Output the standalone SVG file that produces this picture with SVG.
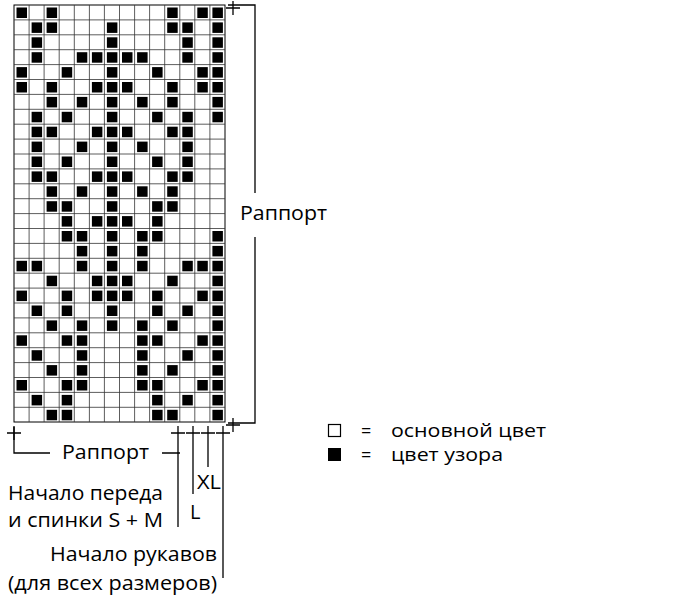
<svg xmlns="http://www.w3.org/2000/svg" width="677" height="600" viewBox="0 0 677 600">
<style>
.t{font-family:"Open Sans","Noto Sans",sans-serif;font-size:20px;fill:#000}
.s{font-size:18px}
.ln{stroke:#000;stroke-width:1.3;fill:none}
.g{stroke:#333;stroke-width:0.8}
.b{fill:#000}
</style>
<rect width="677" height="600" fill="#fff"/>
<g id="chart">
<rect x="14" y="5" width="211" height="417" fill="#fff" stroke="#000" stroke-width="1"/>
</g>
<g id="connectors" class="ln">
<path d="M228 5H255V193M255 237V423H228"/>
<path d="M233 1V15M226 8H240"/>
<path d="M233 418V432M226 425H240"/>
<path d="M14 427V453H50M162 453H180"/>
<path d="M14 426V440M7 433H21"/>
<path d="M178 426V527M193 426V494M208 426V467M223 426V578"/>
<path d="M171 433H185M186 433H200M201 433H215M216 433H230"/>
</g>
<g id="labels">
<text class="t" x="240" y="220" textLength="87" lengthAdjust="spacingAndGlyphs">Раппорт</text>
<text class="t" x="62" y="459" textLength="87" lengthAdjust="spacingAndGlyphs">Раппорт</text>
<text class="t" x="197" y="489" textLength="24" lengthAdjust="spacingAndGlyphs">XL</text>
<text class="t" x="190" y="519">L</text>
<text class="t" x="8" y="500" textLength="155" lengthAdjust="spacingAndGlyphs">Начало переда</text>
<text class="t" x="8" y="527" textLength="155" lengthAdjust="spacingAndGlyphs">и спинки S + M</text>
<text class="t" x="50" y="561" textLength="167" lengthAdjust="spacingAndGlyphs">Начало рукавов</text>
<text class="t" x="8" y="590" textLength="209" lengthAdjust="spacingAndGlyphs">(для всех размеров)</text>
</g>
<g id="legend">
<rect x="328.5" y="424.5" width="12" height="12" fill="#fff" stroke="#000" stroke-width="1.2"/>
<rect x="328" y="448" width="13" height="13" fill="#000"/>
<text class="t s" x="361" y="437">=</text>
<text class="t s" x="361" y="461">=</text>
<text class="t s" x="391" y="437" textLength="155" lengthAdjust="spacingAndGlyphs">основной цвет</text>
<text class="t s" x="391" y="461" textLength="112" lengthAdjust="spacingAndGlyphs">цвет узора</text>
</g>
<g id="grid" class="g">
<path d="M29.1 5V422M44.1 5V422M59.2 5V422M74.3 5V422M89.4 5V422M104.4 5V422M119.5 5V422M134.6 5V422M149.6 5V422M164.7 5V422M179.8 5V422M194.8 5V422M209.9 5V422"/>
<path d="M14 19.9H225M14 34.8H225M14 49.7H225M14 64.6H225M14 79.5H225M14 94.4H225M14 109.3H225M14 124.2H225M14 139.1H225M14 154H225M14 168.9H225M14 183.8H225M14 198.7H225M14 213.6H225M14 228.5H225M14 243.4H225M14 258.3H225M14 273.2H225M14 288.1H225M14 303H225M14 317.9H225M14 332.8H225M14 347.7H225M14 362.6H225M14 377.5H225M14 392.4H225M14 407.3H225"/>
</g>
<g id="stitches" class="b">
<rect x="16.5" y="7.5" width="10.5" height="10.5"/><rect x="46.6" y="7.5" width="10.5" height="10.5"/><rect x="167.2" y="7.5" width="10.5" height="10.5"/><rect x="197.3" y="7.5" width="10.5" height="10.5"/><rect x="212.4" y="7.5" width="10.5" height="10.5"/>
<rect x="31.6" y="22.4" width="10.5" height="10.5"/><rect x="46.6" y="22.4" width="10.5" height="10.5"/><rect x="106.9" y="22.4" width="10.5" height="10.5"/><rect x="167.2" y="22.4" width="10.5" height="10.5"/><rect x="182.3" y="22.4" width="10.5" height="10.5"/><rect x="212.4" y="22.4" width="10.5" height="10.5"/>
<rect x="31.6" y="37.3" width="10.5" height="10.5"/><rect x="106.9" y="37.3" width="10.5" height="10.5"/><rect x="182.3" y="37.3" width="10.5" height="10.5"/><rect x="212.4" y="37.3" width="10.5" height="10.5"/>
<rect x="31.6" y="52.2" width="10.5" height="10.5"/><rect x="76.8" y="52.2" width="10.5" height="10.5"/><rect x="91.9" y="52.2" width="10.5" height="10.5"/><rect x="106.9" y="52.2" width="10.5" height="10.5"/><rect x="122" y="52.2" width="10.5" height="10.5"/><rect x="137.1" y="52.2" width="10.5" height="10.5"/><rect x="182.3" y="52.2" width="10.5" height="10.5"/><rect x="212.4" y="52.2" width="10.5" height="10.5"/>
<rect x="16.5" y="67.1" width="10.5" height="10.5"/><rect x="61.7" y="67.1" width="10.5" height="10.5"/><rect x="106.9" y="67.1" width="10.5" height="10.5"/><rect x="152.1" y="67.1" width="10.5" height="10.5"/><rect x="197.3" y="67.1" width="10.5" height="10.5"/><rect x="212.4" y="67.1" width="10.5" height="10.5"/>
<rect x="16.5" y="82" width="10.5" height="10.5"/><rect x="46.6" y="82" width="10.5" height="10.5"/><rect x="91.9" y="82" width="10.5" height="10.5"/><rect x="106.9" y="82" width="10.5" height="10.5"/><rect x="122" y="82" width="10.5" height="10.5"/><rect x="167.2" y="82" width="10.5" height="10.5"/><rect x="197.3" y="82" width="10.5" height="10.5"/><rect x="212.4" y="82" width="10.5" height="10.5"/>
<rect x="46.6" y="96.9" width="10.5" height="10.5"/><rect x="76.8" y="96.9" width="10.5" height="10.5"/><rect x="106.9" y="96.9" width="10.5" height="10.5"/><rect x="137.1" y="96.9" width="10.5" height="10.5"/><rect x="167.2" y="96.9" width="10.5" height="10.5"/><rect x="212.4" y="96.9" width="10.5" height="10.5"/>
<rect x="31.6" y="111.8" width="10.5" height="10.5"/><rect x="61.7" y="111.8" width="10.5" height="10.5"/><rect x="106.9" y="111.8" width="10.5" height="10.5"/><rect x="152.1" y="111.8" width="10.5" height="10.5"/><rect x="182.3" y="111.8" width="10.5" height="10.5"/><rect x="212.4" y="111.8" width="10.5" height="10.5"/>
<rect x="31.6" y="126.7" width="10.5" height="10.5"/><rect x="46.6" y="126.7" width="10.5" height="10.5"/><rect x="91.9" y="126.7" width="10.5" height="10.5"/><rect x="106.9" y="126.7" width="10.5" height="10.5"/><rect x="122" y="126.7" width="10.5" height="10.5"/><rect x="167.2" y="126.7" width="10.5" height="10.5"/><rect x="182.3" y="126.7" width="10.5" height="10.5"/>
<rect x="31.6" y="141.6" width="10.5" height="10.5"/><rect x="76.8" y="141.6" width="10.5" height="10.5"/><rect x="106.9" y="141.6" width="10.5" height="10.5"/><rect x="137.1" y="141.6" width="10.5" height="10.5"/><rect x="182.3" y="141.6" width="10.5" height="10.5"/>
<rect x="31.6" y="156.5" width="10.5" height="10.5"/><rect x="61.7" y="156.5" width="10.5" height="10.5"/><rect x="106.9" y="156.5" width="10.5" height="10.5"/><rect x="152.1" y="156.5" width="10.5" height="10.5"/><rect x="182.3" y="156.5" width="10.5" height="10.5"/>
<rect x="31.6" y="171.4" width="10.5" height="10.5"/><rect x="46.6" y="171.4" width="10.5" height="10.5"/><rect x="91.9" y="171.4" width="10.5" height="10.5"/><rect x="106.9" y="171.4" width="10.5" height="10.5"/><rect x="122" y="171.4" width="10.5" height="10.5"/><rect x="167.2" y="171.4" width="10.5" height="10.5"/><rect x="182.3" y="171.4" width="10.5" height="10.5"/>
<rect x="46.6" y="186.3" width="10.5" height="10.5"/><rect x="76.8" y="186.3" width="10.5" height="10.5"/><rect x="106.9" y="186.3" width="10.5" height="10.5"/><rect x="137.1" y="186.3" width="10.5" height="10.5"/><rect x="167.2" y="186.3" width="10.5" height="10.5"/>
<rect x="46.6" y="201.2" width="10.5" height="10.5"/><rect x="61.7" y="201.2" width="10.5" height="10.5"/><rect x="106.9" y="201.2" width="10.5" height="10.5"/><rect x="152.1" y="201.2" width="10.5" height="10.5"/><rect x="167.2" y="201.2" width="10.5" height="10.5"/>
<rect x="61.7" y="216.1" width="10.5" height="10.5"/><rect x="91.9" y="216.1" width="10.5" height="10.5"/><rect x="106.9" y="216.1" width="10.5" height="10.5"/><rect x="122" y="216.1" width="10.5" height="10.5"/><rect x="152.1" y="216.1" width="10.5" height="10.5"/>
<rect x="61.7" y="231" width="10.5" height="10.5"/><rect x="76.8" y="231" width="10.5" height="10.5"/><rect x="106.9" y="231" width="10.5" height="10.5"/><rect x="137.1" y="231" width="10.5" height="10.5"/><rect x="152.1" y="231" width="10.5" height="10.5"/><rect x="212.4" y="231" width="10.5" height="10.5"/>
<rect x="76.8" y="245.9" width="10.5" height="10.5"/><rect x="106.9" y="245.9" width="10.5" height="10.5"/><rect x="137.1" y="245.9" width="10.5" height="10.5"/><rect x="212.4" y="245.9" width="10.5" height="10.5"/>
<rect x="16.5" y="260.8" width="10.5" height="10.5"/><rect x="31.6" y="260.8" width="10.5" height="10.5"/><rect x="76.8" y="260.8" width="10.5" height="10.5"/><rect x="106.9" y="260.8" width="10.5" height="10.5"/><rect x="137.1" y="260.8" width="10.5" height="10.5"/><rect x="182.3" y="260.8" width="10.5" height="10.5"/><rect x="197.3" y="260.8" width="10.5" height="10.5"/><rect x="212.4" y="260.8" width="10.5" height="10.5"/>
<rect x="46.6" y="275.7" width="10.5" height="10.5"/><rect x="91.9" y="275.7" width="10.5" height="10.5"/><rect x="106.9" y="275.7" width="10.5" height="10.5"/><rect x="122" y="275.7" width="10.5" height="10.5"/><rect x="167.2" y="275.7" width="10.5" height="10.5"/><rect x="212.4" y="275.7" width="10.5" height="10.5"/>
<rect x="16.5" y="290.6" width="10.5" height="10.5"/><rect x="61.7" y="290.6" width="10.5" height="10.5"/><rect x="91.9" y="290.6" width="10.5" height="10.5"/><rect x="106.9" y="290.6" width="10.5" height="10.5"/><rect x="122" y="290.6" width="10.5" height="10.5"/><rect x="152.1" y="290.6" width="10.5" height="10.5"/><rect x="197.3" y="290.6" width="10.5" height="10.5"/><rect x="212.4" y="290.6" width="10.5" height="10.5"/>
<rect x="31.6" y="305.5" width="10.5" height="10.5"/><rect x="61.7" y="305.5" width="10.5" height="10.5"/><rect x="106.9" y="305.5" width="10.5" height="10.5"/><rect x="152.1" y="305.5" width="10.5" height="10.5"/><rect x="182.3" y="305.5" width="10.5" height="10.5"/><rect x="212.4" y="305.5" width="10.5" height="10.5"/>
<rect x="46.6" y="320.4" width="10.5" height="10.5"/><rect x="76.8" y="320.4" width="10.5" height="10.5"/><rect x="106.9" y="320.4" width="10.5" height="10.5"/><rect x="137.1" y="320.4" width="10.5" height="10.5"/><rect x="167.2" y="320.4" width="10.5" height="10.5"/><rect x="212.4" y="320.4" width="10.5" height="10.5"/>
<rect x="16.5" y="335.3" width="10.5" height="10.5"/><rect x="61.7" y="335.3" width="10.5" height="10.5"/><rect x="76.8" y="335.3" width="10.5" height="10.5"/><rect x="137.1" y="335.3" width="10.5" height="10.5"/><rect x="152.1" y="335.3" width="10.5" height="10.5"/><rect x="197.3" y="335.3" width="10.5" height="10.5"/><rect x="212.4" y="335.3" width="10.5" height="10.5"/>
<rect x="31.6" y="350.2" width="10.5" height="10.5"/><rect x="76.8" y="350.2" width="10.5" height="10.5"/><rect x="137.1" y="350.2" width="10.5" height="10.5"/><rect x="182.3" y="350.2" width="10.5" height="10.5"/><rect x="212.4" y="350.2" width="10.5" height="10.5"/>
<rect x="46.6" y="365.1" width="10.5" height="10.5"/><rect x="76.8" y="365.1" width="10.5" height="10.5"/><rect x="137.1" y="365.1" width="10.5" height="10.5"/><rect x="167.2" y="365.1" width="10.5" height="10.5"/><rect x="212.4" y="365.1" width="10.5" height="10.5"/>
<rect x="16.5" y="380" width="10.5" height="10.5"/><rect x="61.7" y="380" width="10.5" height="10.5"/><rect x="76.8" y="380" width="10.5" height="10.5"/><rect x="137.1" y="380" width="10.5" height="10.5"/><rect x="152.1" y="380" width="10.5" height="10.5"/><rect x="197.3" y="380" width="10.5" height="10.5"/><rect x="212.4" y="380" width="10.5" height="10.5"/>
<rect x="31.6" y="394.9" width="10.5" height="10.5"/><rect x="61.7" y="394.9" width="10.5" height="10.5"/><rect x="152.1" y="394.9" width="10.5" height="10.5"/><rect x="182.3" y="394.9" width="10.5" height="10.5"/><rect x="212.4" y="394.9" width="10.5" height="10.5"/>
<rect x="46.6" y="409.8" width="10.5" height="10.5"/><rect x="61.7" y="409.8" width="10.5" height="10.5"/><rect x="152.1" y="409.8" width="10.5" height="10.5"/><rect x="167.2" y="409.8" width="10.5" height="10.5"/><rect x="212.4" y="409.8" width="10.5" height="10.5"/>
</g>
</svg>
